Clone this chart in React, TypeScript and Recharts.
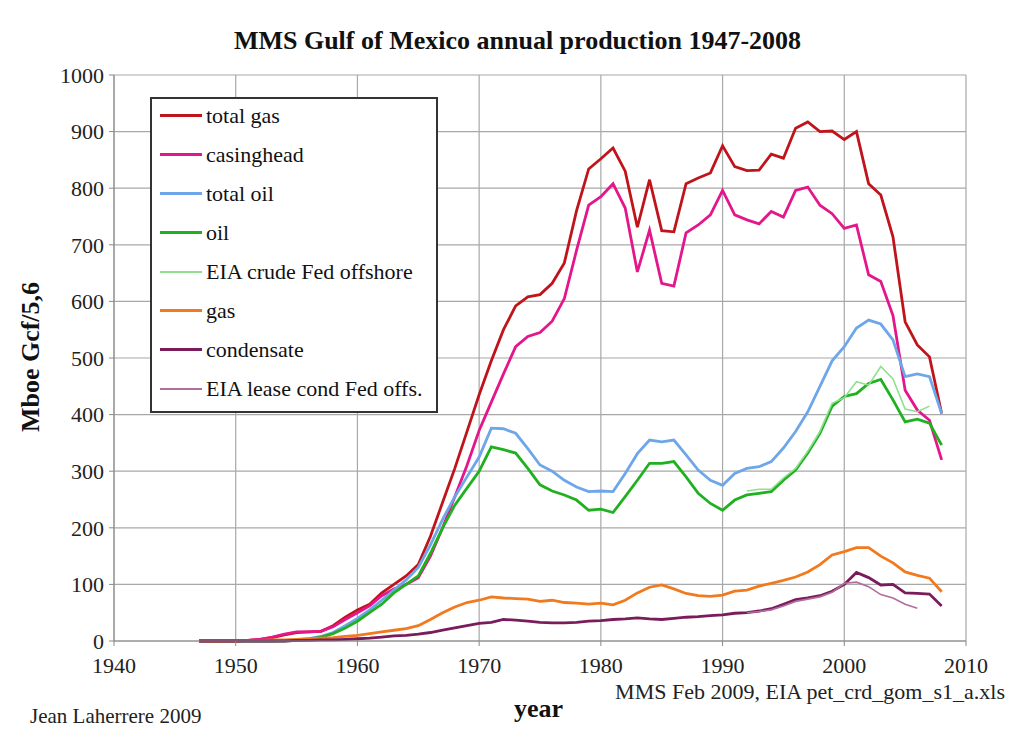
import { CartesianGrid, Line, LineChart, XAxis, YAxis } from 'recharts'

const years = [
  1947, 1948, 1949, 1950, 1951, 1952, 1953, 1954, 1955, 1956, 1957, 1958, 1959, 1960,
  1961, 1962, 1963, 1964, 1965, 1966, 1967, 1968, 1969, 1970, 1971, 1972, 1973, 1974,
  1975, 1976, 1977, 1978, 1979, 1980, 1981, 1982, 1983, 1984, 1985, 1986, 1987, 1988,
  1989, 1990, 1991, 1992, 1993, 1994, 1995, 1996, 1997, 1998, 1999, 2000, 2001, 2002,
  2003, 2004, 2005, 2006, 2007, 2008,
]

const totalGas = [
  0, 0, 0, 0, 1, 3, 6, 11, 15, 16, 17, 27, 42, 55,
  65, 85, 100, 115, 135, 185, 245, 305, 370, 435, 495, 550, 592, 608,
  612, 632, 668, 760, 834, 852, 871, 830, 731, 815, 725, 723, 808, 818,
  827, 875, 838, 831, 832, 860, 853, 906, 917, 900, 901, 886, 900, 808,
  788, 714, 564, 523, 502, 402,
]

const casinghead = [
  0, 0, 0, 0, 1, 3, 7, 12, 16, 16, 17, 25, 38, 50,
  62, 80, 92, 100, 112, 150, 200, 255, 310, 372, 422, 472, 520, 538,
  545, 565, 605, 690, 770, 785, 808, 765, 652, 726, 632, 627, 721, 735,
  753, 796, 753, 744, 737, 759, 749, 796, 802, 770, 755, 729, 735, 647,
  635, 575, 443, 408, 390, 320,
]

const totalOil = [
  0, 0, 0, 0, 0, 0, 0, 1, 2, 4, 8, 15, 27, 40,
  55, 72, 90, 108, 130, 170, 215, 255, 290, 325, 376, 375, 367, 340,
  311, 300, 284, 272, 264, 265, 264, 296, 331, 355, 352, 355, 329, 302,
  284, 275, 296, 305, 308, 317, 341, 370, 405, 450, 495, 520, 553, 567,
  560, 532, 467, 472, 467, 402,
]

const oil = [
  0, 0, 0, 0, 0, 0, 0, 0, 1, 3, 7, 13, 23, 35,
  50, 65, 85, 100, 115, 155, 200, 240, 270, 300, 343, 338, 332, 305,
  276, 265, 258, 249, 231, 233, 227, 255, 284, 314, 314, 317, 290, 261,
  243, 231, 249, 258, 261, 264, 284, 302, 332, 367, 415, 432, 437, 455,
  462, 426, 387, 392, 385, 346,
]

const eiaCrude = [
  null, null, null, null, null, null, null, null, null, null, null, null, null, null,
  null, null, null, null, null, null, null, null, null, null, null, null, null, null,
  null, null, null, null, null, null, null, null, null, null, null, null, null, null,
  null, null, null, 265, 268, 268, 288, 305, 335, 370, 420, 430, 458, 452,
  485, 463, 410, 405, 415, null,
]

const gas = [
  0, 0, 0, 0, 1, 1, 2, 2, 3, 4, 5, 6, 8, 10,
  13, 16, 19, 22, 27, 38, 50, 60, 68, 72, 78, 76, 75, 74,
  70, 72, 68, 67, 65, 67, 64, 72, 85, 95, 99, 92, 84, 80,
  79, 81, 88, 90, 97, 102, 107, 113, 122, 135, 152, 158, 165, 165,
  150, 138, 122, 116, 111, 87,
]

const condensate = [
  0, 0, 0, 0, 0, 0, 0, 0, 1, 1, 2, 2, 3, 4,
  5, 7, 9, 10, 12, 15, 19, 23, 27, 31, 33, 38, 37, 35,
  33, 32, 32, 33, 35, 36, 38, 39, 41, 39, 38, 40, 42, 43,
  45, 46, 49, 50, 53, 57, 65, 73, 76, 80, 88, 100, 121, 112,
  99, 100, 85, 84, 83, 62,
]

const eiaLease = [
  null, null, null, null, null, null, null, null, null, null, null, null, null, null,
  null, null, null, null, null, null, null, null, null, null, null, null, null, null,
  null, null, null, null, null, null, null, null, null, null, null, null, null, null,
  null, null, null, 50, 52, 55, 62, 70, 74, 78, 86, 102, 104, 96,
  82, 76, 65, 58, null, null,
]

const xTicks = [1940, 1950, 1960, 1970, 1980, 1990, 2000, 2010]
const yTicks = [0, 100, 200, 300, 400, 500, 600, 700, 800, 900, 1000]

const data = years.map((year, i) => ({
  year,
  totalGas: totalGas[i],
  casinghead: casinghead[i],
  totalOil: totalOil[i],
  oil: oil[i],
  eiaCrude: eiaCrude[i],
  gas: gas[i],
  condensate: condensate[i],
  eiaLease: eiaLease[i],
}))

const series = [
  { key: 'totalGas', name: 'total gas', color: '#c0141c', width: 2.8 },
  { key: 'casinghead', name: 'casinghead', color: '#e4168c', width: 2.8 },
  { key: 'totalOil', name: 'total oil', color: '#6ea6ea', width: 2.8 },
  { key: 'oil', name: 'oil', color: '#20b020', width: 2.8 },
  { key: 'eiaCrude', name: 'EIA crude Fed offshore', color: '#8ee08e', width: 1.6 },
  { key: 'gas', name: 'gas', color: '#f27a1e', width: 2.8 },
  { key: 'condensate', name: 'condensate', color: '#7a1c5c', width: 2.8 },
  { key: 'eiaLease', name: 'EIA lease cond Fed offs.', color: '#b06e9c', width: 1.6 },
]

const FONT = '"Liberation Serif", "Times New Roman", serif'

function LegendBox() {
  return (
    <div
      style={{
        position: 'absolute',
        left: 150,
        top: 97,
        border: '2px solid #333',
        background: '#fff',
        width: 288,
        height: 316,
        boxSizing: 'border-box',
        padding: '0 0 0 8px',
        fontFamily: FONT,
        fontSize: 22,
        color: '#111',
        overflow: 'hidden',
      }}
    >
      <div style={{ marginTop: -3 }}>
        {series.map((s) => (
          <div key={s.key} style={{ display: 'flex', alignItems: 'center', height: 39 }}>
            <span
              style={{
                display: 'inline-block',
                width: 42,
                height: 0,
                borderTop: `${s.width > 2 ? 3 : 2}px solid ${s.color}`,
                marginRight: 4,
              }}
            />
            <span style={{ whiteSpace: 'nowrap' }}>{s.name}</span>
          </div>
        ))}
      </div>
    </div>
  )
}

export default function App() {
  return (
    <div
      style={{
        position: 'absolute',
        left: 0,
        top: 0,
        width: 1013,
        height: 729,
        background: '#fff',
        fontFamily: FONT,
      }}
    >
      <LineChart
        width={1013}
        height={729}
        data={data}
        margin={{ top: 75, right: 47, bottom: 58, left: 54 }}
      >
        <CartesianGrid stroke="#a8a8a8" strokeWidth={1.2} />
        <XAxis
          dataKey="year"
          type="number"
          domain={[1940, 2010]}
          ticks={xTicks}
          height={30}
          stroke="#888"
          tickSize={5}
          tickMargin={11}
          tick={{ fill: '#222', fontSize: 22, fontFamily: FONT }}
        />
        <YAxis
          type="number"
          domain={[0, 1000]}
          ticks={yTicks}
          width={60}
          stroke="#888"
          tickSize={5}
          tickMargin={5}
          tick={{ fill: '#222', fontSize: 22, fontFamily: FONT }}
        />
        {series.map((s) => (
          <Line
            key={s.key}
            dataKey={s.key}
            name={s.name}
            type="linear"
            stroke={s.color}
            strokeWidth={s.width}
            dot={false}
            isAnimationActive={false}
          />
        ))}
      </LineChart>
      <LegendBox />
      <div
        style={{
          position: 'absolute',
          left: 0,
          width: 1035,
          top: 26,
          textAlign: 'center',
          fontSize: 26,
          fontWeight: 'bold',
          color: '#111',
          whiteSpace: 'nowrap',
        }}
      >
        MMS Gulf of Mexico annual production 1947-2008
      </div>
      <div
        style={{
          position: 'absolute',
          left: 31,
          top: 357,
          transform: 'translate(-50%, -50%) rotate(-90deg)',
          fontSize: 26,
          fontWeight: 'bold',
          whiteSpace: 'nowrap',
          color: '#111',
        }}
      >
        Mboe Gcf/5,6
      </div>
      <div
        style={{
          position: 'absolute',
          left: 514,
          top: 694,
          fontSize: 26,
          fontWeight: 'bold',
          color: '#111',
        }}
      >
        year
      </div>
      <div
        style={{
          position: 'absolute',
          right: 8,
          top: 679,
          fontSize: 22,
          color: '#222',
          whiteSpace: 'nowrap',
        }}
      >
        MMS Feb 2009, EIA pet_crd_gom_s1_a.xls
      </div>
      <div
        style={{
          position: 'absolute',
          left: 30,
          top: 704,
          fontSize: 21,
          color: '#222',
          whiteSpace: 'nowrap',
        }}
      >
        Jean Laherrere 2009
      </div>
    </div>
  )
}
